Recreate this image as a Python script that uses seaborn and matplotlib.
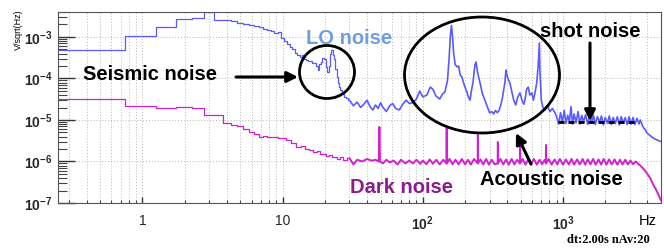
import numpy as np
import pandas as pd
import matplotlib
matplotlib.use("Agg")
import matplotlib.pyplot as plt
from matplotlib.ticker import FixedLocator, FixedFormatter, LogLocator, NullFormatter
from matplotlib.patches import Ellipse
import seaborn as sns

# ---------------- data ----------------
lo_freq = [0.25, 0.5, 1.0, 1.5, 2.0, 2.5, 3.0, 3.5, 4.0, 4.5, 5.0, 5.5, 6.0, 6.5, 7.0, 7.5, 8.0,
           8.5, 9.0, 9.5, 10.0, 10.5, 11.0, 11.5, 12.0, 12.5, 13.0, 13.5, 14.0, 14.5, 15.0,
           15.5, 16.0, 16.5, 17.0, 17.5, 18.0, 18.5, 19.0, 19.5, 20.0, 20.5, 21.0, 21.5,
           22.0, 22.5, 23.0, 23.5, 24.0, 24.5, 25.0, 25.5, 26, 27, 28, 29, 30,
           32, 34, 36, 38, 40, 42, 44, 46, 48, 50, 52, 55, 58, 61, 64, 68, 72, 76, 80, 85,
           90, 95, 100, 107, 113, 118, 124, 132, 138, 144, 150, 154, 157, 160, 163, 166,
           170, 175, 180, 185, 190, 195, 200, 207, 212, 217, 222, 228, 232, 236, 240, 245,
           250, 258, 265, 277, 290, 300, 310, 320, 330, 340, 350, 360, 370, 380, 385, 392,
           398, 405, 418, 430, 445, 460, 475, 493, 510, 525, 535, 550, 565, 580, 600, 615,
           631, 650, 665, 678, 685, 700, 720, 744, 770, 807, 840, 876,
           900, 930, 960, 990, 1020, 1050, 1080, 1110, 1140, 1170, 1200, 1240, 1280, 1320,
           1360, 1400, 1450, 1500, 1550, 1600, 1650, 1700, 1760, 1820, 1880, 1940, 2000,
           2070, 2140, 2210, 2280, 2360, 2440, 2520, 2600, 2690, 2780, 2870, 2960, 3060,
           3160, 3260, 3370, 3480, 3560, 3650, 3750, 3850, 3950, 4050, 4180, 4300, 4450,
           4600, 4800, 5000]
lo_val = [4.86e-4, 4.86e-4, 1.06e-3, 1.74e-3, 2.72e-3, 2.9e-3, 4.0e-3, 2.57e-3, 2.5e-3, 2.4e-3,
          2.2e-3, 2.05e-3, 1.95e-3, 1.8e-3, 1.7e-3, 1.6e-3, 1.5e-3, 1.4e-3, 1.25e-3, 1.32e-3,
          9.5e-4, 8.0e-4, 6.8e-4, 5.8e-4, 5.0e-4, 4.2e-4, 3.6e-4, 3.3e-4, 3.6e-4, 3.0e-4,
          2.8e-4, 2.6e-4, 2.7e-4, 2.4e-4, 2.35e-4, 2.0e-4, 1.6e-4, 2.2e-4, 2.5e-4, 3.1e-4,
          2.9e-4, 1.9e-4, 1.45e-4, 2.0e-4, 4.0e-4, 4.9e-4, 3.6e-4, 3.0e-4, 1.7e-4, 1.1e-4,
          8.0e-5, 6.2e-5, 5.2e-5, 4.2e-5, 3.6e-5, 3.3e-5, 3.0e-5,
          2.2e-5, 2.7e-5, 2.0e-5, 2.4e-5, 3.0e-5, 2.1e-5, 1.75e-5, 2.3e-5, 1.9e-5, 2.6e-5,
          2.0e-5, 1.6e-5, 2.2e-5, 2.5e-5, 1.9e-5, 1.75e-5, 2.4e-5, 3.0e-5, 2.5e-5, 2.6e-5,
          3.2e-5, 5.0e-5, 3.6e-5, 4.0e-5, 6.2e-5, 5.5e-5, 3.8e-5, 3.2e-5, 4.2e-5, 4.8e-5,
          9.0e-5, 3.0e-4, 1.0e-3, 1.9e-3, 1.0e-3, 4.0e-4, 2.2e-4, 1.9e-4, 2.0e-4, 1.2e-4,
          1.09e-4, 8.0e-5, 6.2e-5, 4.5e-5, 3.5e-5, 3.0e-5, 5.0e-5, 8.0e-5, 1.4e-4, 2.2e-4,
          2.5e-4, 1.5e-4, 1.09e-4, 7.0e-5, 4.5e-5, 3.0e-5, 2.0e-5, 1.48e-5, 1.6e-5, 1.4e-5,
          1.7e-5, 1.5e-5, 1.7e-5, 2.3e-5, 3.5e-5, 6.0e-5, 8.0e-5, 1.6e-4, 1.2e-4, 1.0e-4,
          7.8e-5, 5.0e-5, 3.0e-5, 2.3e-5, 3.5e-5, 4.5e-5, 3.0e-5, 2.4e-5, 3.0e-5, 5.5e-5,
          6.2e-5, 4.0e-5, 4.5e-5, 3.0e-5, 4.5e-5, 8.0e-5, 2.0e-4, 7.2e-4, 1.5e-4, 3.0e-5,
          2.0e-5, 1.74e-5, 2.2e-5, 1.6e-5, 1.9e-5, 1.5e-5,
          1.2e-5, 8.0e-6, 1.5e-5, 8.8e-6, 1.7e-5, 8.2e-6, 1.3e-5, 9.0e-6, 2.1e-5, 8.0e-6,
          1.4e-5, 8.6e-6, 1.6e-5, 8.0e-6, 1.3e-5, 9.0e-6, 1.35e-5, 7.8e-6, 1.25e-5, 8.6e-6,
          1.3e-5, 7.8e-6, 1.2e-5, 8.8e-6, 1.25e-5, 7.6e-6, 1.15e-5, 8.4e-6, 1.25e-5, 7.8e-6,
          1.15e-5, 8.2e-6, 1.2e-5, 7.6e-6, 1.2e-5, 8.4e-6, 1.15e-5, 7.8e-6, 1.2e-5, 8.0e-6,
          1.15e-5, 7.8e-6, 1.1e-5, 8.0e-6, 1.0e-5, 8.0e-6, 6.5e-6, 6.0e-6, 5.0e-6, 4.6e-6,
          4.2e-6, 3.9e-6, 3.6e-6, 3.4e-6, 3.2e-6, 3.0e-6]

# dark noise as (frequency [Hz], amplitude [V/sqrt(Hz)]) pairs
dark_points = [
    (0.25, 3.2e-5), (0.5, 3.2e-5), (1.0, 2.17e-5), (1.5, 1.94e-5), (2.0, 2.06e-5), (2.5, 2.0e-5),
    (3.0, 1.32e-5), (3.5, 1.3e-5), (4.0, 8.5e-6), (4.5, 7.6e-6), (5.0, 7.2e-6), (5.5, 6.0e-6),
    (6.0, 5.2e-6), (6.5, 4.6e-6), (7.0, 4.0e-6), (7.5, 4.2e-6), (8.0, 4.0e-6), (8.5, 3.8e-6),
    (9.0, 3.9e-6), (9.5, 3.6e-6), (10, 3.7e-6), (11, 3.3e-6), (12, 2.8e-6), (13, 2.2e-6),
    (14, 2.4e-6), (15, 2.0e-6), (16, 1.9e-6), (17, 1.7e-6), (18, 1.75e-6), (19, 1.5e-6),
    (20, 1.55e-6), (21, 1.35e-6), (22, 1.45e-6), (23, 1.25e-6), (24, 1.3e-6), (25, 1.15e-6),
    (26, 1.25e-6), (28, 1.1e-6), (30, 1.2e-6), (32, 8.5e-7), (34, 1.1e-6), (37, 1.0e-6),
    (40, 1.15e-6), (43, 1.05e-6), (46, 1.1e-6), (48.5, 1.0e-6), (49, 6.8e-6), (49.5, 1.0e-6),
    (52, 9e-7), (55, 1.1e-6), (58, 9.5e-7), (62, 1.05e-6), (66, 8.5e-7), (70, 1.1e-6),
    (75, 9e-7), (80, 1.05e-6), (85, 9e-7), (90, 1.1e-6), (96, 8.8e-7), (100, 1.05e-6),
    (106, 8.6e-7), (112, 1.12e-6), (118, 8.8e-7), (125, 1.1e-6), (132, 8.5e-7), (140, 1.1e-6),
    (147.5, 9e-7), (148, 6.4e-6), (148.5, 9e-7), (155, 1.15e-6), (163, 8.6e-7), (171, 1.1e-6),
    (180, 8.5e-7), (190, 1.15e-6), (200, 8.6e-7), (210, 1.1e-6), (220, 8.4e-7), (232, 1.15e-6),
    (246.5, 9e-7), (247, 4.35e-6), (247.5, 9e-7), (258, 1.12e-6), (270, 8.5e-7), (283, 1.15e-6),
    (296, 8.4e-7), (310, 1.1e-6), (325, 8.6e-7), (342.5, 9e-7), (343, 2.95e-6), (343.5, 9e-7),
    (358, 1.15e-6), (375, 8.5e-7), (392, 1.12e-6), (410, 8.4e-7), (430, 1.15e-6), (450, 8.5e-7),
    (470, 1.1e-6), (492.5, 9e-7), (493, 3.4e-6), (493.5, 9e-7), (515, 1.15e-6), (540, 8.4e-7),
    (565, 1.12e-6), (590, 8.5e-7), (620, 1.15e-6), (650, 8.4e-7), (680, 1.1e-6), (710, 8.6e-7),
    (740, 1.1e-6), (755.5, 9e-7), (756, 2.5e-6), (756.5, 9e-7), (790, 1.15e-6), (830, 8.4e-7),
    (870, 1.12e-6), (910, 8.5e-7), (950, 1.15e-6), (1000, 8.4e-7), (1050, 1.12e-6),
    (1100, 8.5e-7), (1150, 1.15e-6), (1200, 8.4e-7), (1260, 1.12e-6), (1320, 8.5e-7),
    (1380, 1.15e-6), (1440, 8.4e-7), (1500, 1.12e-6), (1570, 8.5e-7), (1640, 1.15e-6),
    (1710, 8.4e-7), (1790, 1.12e-6), (1870, 8.5e-7), (1950, 1.15e-6), (2040, 8.4e-7),
    (2130, 1.12e-6), (2230, 8.5e-7), (2330, 1.12e-6), (2440, 8.4e-7), (2550, 1.1e-6),
    (2660, 8.5e-7), (2780, 1.1e-6), (2900, 8.5e-7), (3030, 1.05e-6), (3160, 8.6e-7),
    (3300, 1.0e-6), (3420, 9.0e-7), (3550, 8.0e-7), (3700, 7.0e-7), (3850, 6.0e-7),
    (4000, 5.0e-7), (4180, 4.0e-7), (4350, 3.0e-7), (4540, 2.3e-7), (4750, 1.7e-7),
    (5000, 1.15e-7),
]
dark_freq = [p[0] for p in dark_points]
dark_val = [p[1] for p in dark_points]

x_ticks = [1, 10, 100, 1000]
x_tick_labels = ["1", "10", "$10^{2}$", "$10^{3}$"]
y_ticks = [1e-7, 1e-6, 1e-5, 1e-4, 1e-3]
y_tick_labels = ["$10^{-7}$", "$10^{-6}$", "$10^{-5}$", "$10^{-4}$", "$10^{-3}$"]

shot_level = 9.0e-6
shot_range = [920, 3400]
step_limit = 30  # Hz: below this the 0.5 Hz bins are wide enough to show as steps

# ---------------- style ----------------
sns.set_style("white")
plt.rcParams["font.family"] = ["Liberation Sans", "DejaVu Sans"]
plt.rcParams["mathtext.fontset"] = "custom"
plt.rcParams["mathtext.rm"] = "Liberation Sans"
plt.rcParams["mathtext.bf"] = "Liberation Sans:bold"
plt.rcParams["mathtext.default"] = "bf"

W, H = 664, 248
fig = plt.figure(figsize=(W / 100, H / 100), dpi=100)
L, R, T, B = 58, 661, 12, 203
ax = fig.add_axes([L / W, 1 - B / H, (R - L) / W, (B - T) / H])
ax.set_xscale("log")
ax.set_yscale("log")

df_lo = pd.DataFrame({"freq": lo_freq, "asd": lo_val})
df_dark = pd.DataFrame({"freq": dark_freq, "asd": dark_val})
for df, col, lw_hi in [(df_dark, "#d020d0", 1.4), (df_lo, "#5a5aff", 1.2)]:
    low = df[df["freq"] <= step_limit]
    high = df[df["freq"] >= step_limit]
    sns.lineplot(data=low, x="freq", y="asd", ax=ax, color=col, lw=0.9,
                 estimator=None, sort=False, drawstyle="steps-mid")
    sns.lineplot(data=high, x="freq", y="asd", ax=ax, color=col, lw=lw_hi,
                 estimator=None, sort=False)

ax.set_xlim(0.25, 5000)
ax.set_ylim(1e-7, 4e-3)
ax.set_xlabel("")
ax.set_ylabel("")

ax.xaxis.set_major_locator(FixedLocator(x_ticks))
ax.xaxis.set_major_formatter(FixedFormatter(x_tick_labels))
ax.xaxis.set_minor_locator(LogLocator(base=10, subs=np.arange(2, 10), numticks=30))
ax.xaxis.set_minor_formatter(NullFormatter())
ax.yaxis.set_major_locator(FixedLocator(y_ticks))
ax.yaxis.set_major_formatter(FixedFormatter(y_tick_labels))
ax.yaxis.set_minor_locator(LogLocator(base=10, subs=np.arange(2, 10), numticks=30))
ax.yaxis.set_minor_formatter(NullFormatter())

ax.tick_params(axis="y", which="major", direction="in", length=12, width=1.0,
               color="#333333", left=True, right=False, labelsize=10, pad=4)
ax.tick_params(axis="y", which="minor", direction="in", length=6.5, width=0.8,
               color="#444444", left=True, right=False)
ax.tick_params(axis="x", which="major", direction="in", length=4, width=1.0,
               color="#333333", bottom=True, top=False, labelsize=10, pad=8)
ax.tick_params(axis="x", which="minor", direction="in", length=2.5, width=0.8,
               color="#444444", bottom=True, top=False)

ax.grid(True, axis="x", which="both", ls=(0, (1, 2)), color="#b8b8b8", lw=0.7)
ax.grid(True, axis="y", which="major", ls=(0, (1, 2)), color="#b8b8b8", lw=0.7)
for s in ax.spines.values():
    s.set_color("#555555")
    s.set_linewidth(0.8)

# shot-noise level
ax.hlines(shot_level, shot_range[0], shot_range[1], colors="black", lw=2,
          linestyles=(0, (2.2, 1.4)), zorder=5)

# ---------------- annotations (figure pixel layout) ----------------
def fp(x, y):
    return (x, H - y)

def ftext(x, y, s, **kw):
    fig.text(x / W, 1 - y / H, s, **kw)

ftext(83, 80, "Seismic noise", fontsize=14.5, fontweight="bold", color="black", va="baseline")
ftext(306, 44, "LO noise", fontsize=14.5, fontweight="bold", color="#6f9fdc", va="baseline")
ftext(540, 37, "shot noise", fontsize=14.5, fontweight="bold", color="black", va="baseline")
ftext(480, 185, "Acoustic noise", fontsize=14.5, fontweight="bold", color="black", va="baseline")
ftext(350, 193, "Dark noise", fontsize=14.5, fontweight="bold", color="#8b1c8b", va="baseline")
ftext(657, 225, "Hz", fontsize=10.5, color="black", ha="right", va="baseline")
ftext(650, 243, "dt:2.00s nAv:20", fontsize=9, fontweight="bold", color="black",
      ha="right", va="baseline", family=["Liberation Serif", "DejaVu Serif"])
ftext(18, 30, "V/sqrt(Hz)", fontsize=6.5, color="black", rotation=90, ha="center", va="center")

arrow_kw = dict(arrowstyle="-|>", color="black", lw=2.2, mutation_scale=16,
                shrinkA=0, shrinkB=0)
ax.annotate("", xy=fp(298, 77), xytext=fp(236, 77), xycoords="figure pixels",
            textcoords="figure pixels", arrowprops=arrow_kw, annotation_clip=False)
ax.annotate("", xy=fp(590, 121), xytext=fp(590, 43), xycoords="figure pixels",
            textcoords="figure pixels", arrowprops=arrow_kw, annotation_clip=False)
ax.annotate("", xy=fp(516, 133), xytext=fp(531, 164), xycoords="figure pixels",
            textcoords="figure pixels", arrowprops=arrow_kw, annotation_clip=False)

for cx, cy, w, h in [(327, 72, 55, 53), (482, 75, 155, 116)]:
    e = Ellipse((cx / 100, (H - cy) / 100), w / 100, h / 100, transform=fig.dpi_scale_trans,
                fill=False, ec="black", lw=2.0, zorder=10)
    fig.add_artist(e)

fig.savefig("out.png", dpi=100)
